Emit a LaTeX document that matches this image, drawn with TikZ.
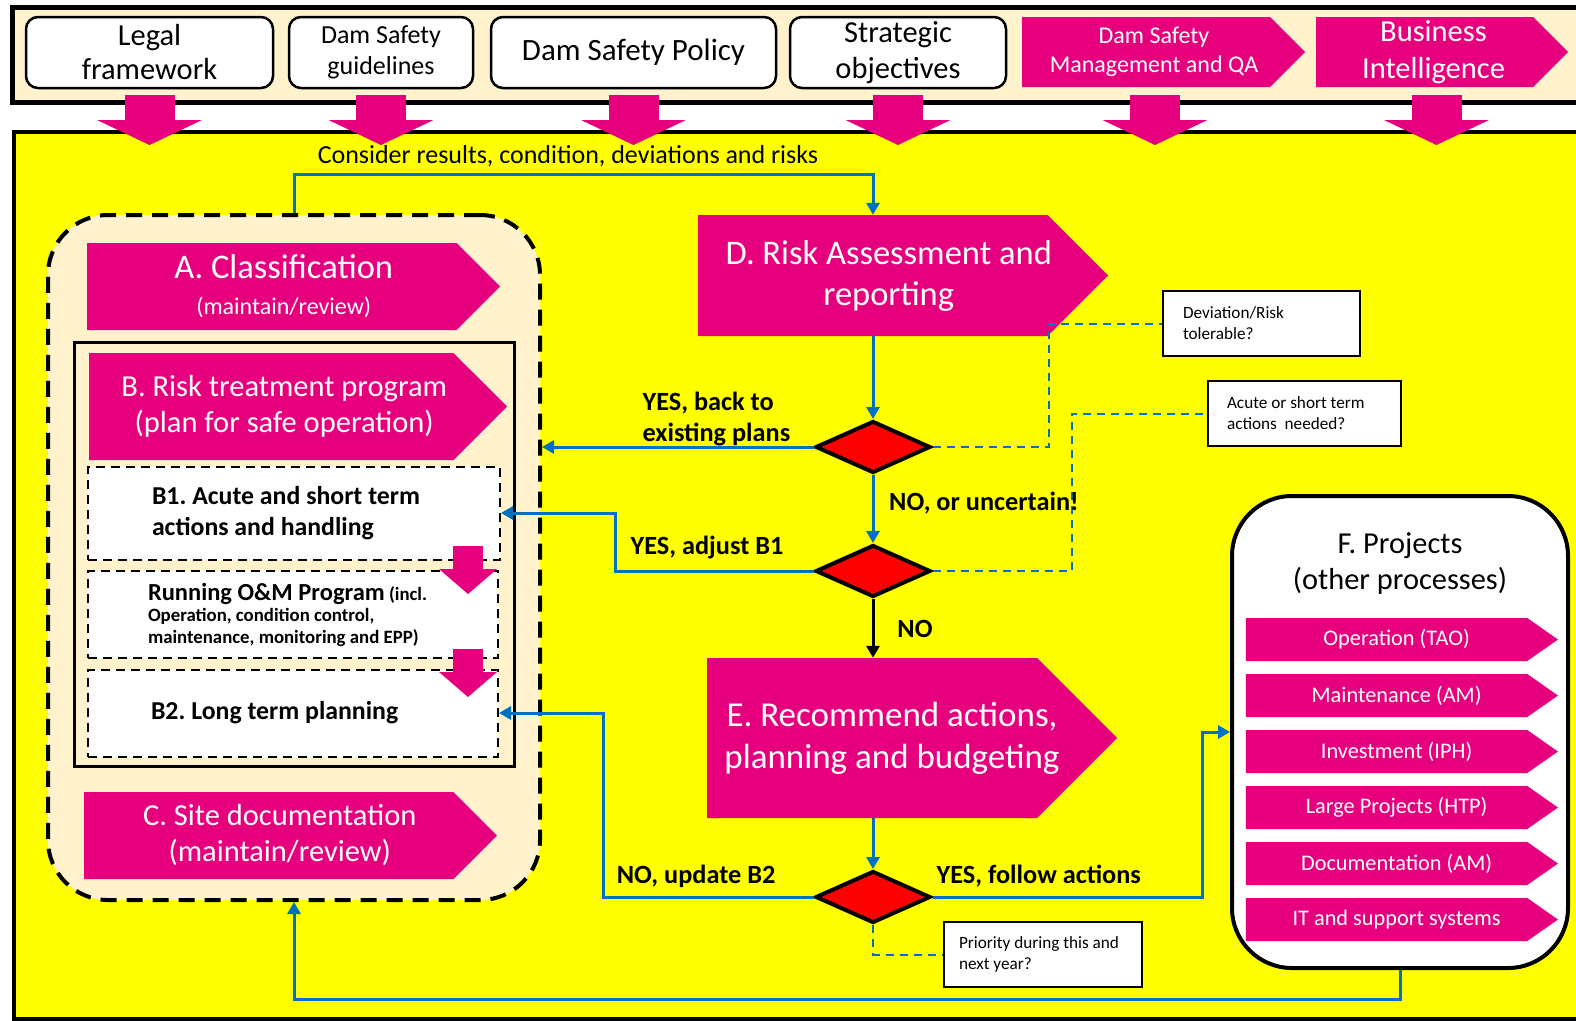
\documentclass[tikz,border=0pt]{standalone}
\usepackage{fontspec}
\setmainfont{Carlito}
\usepackage{tikz}
\usetikzlibrary{arrows.meta,positioning,calc,shapes.geometric,shapes.symbols}
\usepackage{xcolor}
\definecolor{accent}{HTML}{E6007E}
\definecolor{cream}{HTML}{FFF2CC}
\definecolor{link}{HTML}{0070C0}
\definecolor{canvas}{HTML}{FFFF00}
\definecolor{alarm}{HTML}{FF0000}
\newcommand{\fsz}[2]{\fontsize{#1}{#2}\selectfont}
\frenchspacing
\tikzset{
  whitebox/.style={draw, line width=2.5pt, rounded corners=12pt, fill=white, align=center, inner sep=0pt},
  pinkbox/.style={signal, signal to=east, signal from=nowhere, fill=accent, inner sep=0pt},
  caption/.style={text=white, align=center, inner sep=0pt},
  notebox/.style={draw, line width=1.5pt, fill=white, align=flush left, inner sep=0pt, font=\fsz{17.2}{21}},
  dashbox/.style={draw, line width=2pt, dash pattern=on 9pt off 6pt, fill=white, align=flush left, inner sep=0pt, text width=284pt},
  decision/.style={diamond, draw, line width=4pt, fill=alarm, minimum width=115pt, minimum height=52pt, inner sep=0pt},
  bluelink/.style={draw=link, line width=3pt, -{Triangle[width=13pt,length=12pt]}},
  bluedash/.style={draw=link, line width=2pt, dash pattern=on 8pt off 6pt},
  flowlabel/.style={font=\bfseries\fsz{26.3}{31}, align=left, inner sep=0pt},
  fatarrow/.style={draw=accent, line width=50pt, -{Triangle[width=105pt,length=25pt,line width=0pt]}},
  thinarrow/.style={draw=accent, line width=30pt, -{Triangle[width=58pt,length=25pt,line width=0pt]}}
}

\begin{document}
\begin{tikzpicture}[x=1pt,y=-1pt]
  \useasboundingbox (0,0) rectangle (1576,1020);
  \fill[white] (0,0) rectangle (1576,1020);

  \node[draw, line width=4pt, fill=canvas, minimum width=1600pt, minimum height=887pt, anchor=north west, inner sep=0pt] (main) at (12,130) {};
  \node[draw, line width=5pt, fill=cream, minimum width=1600pt, minimum height=95pt, anchor=north west, inner sep=0pt] (band) at (10,5) {};

  \node[whitebox, minimum width=247pt, minimum height=71pt, font=\fsz{30.5}{34}] (legal) at (149.5,52.5) {Legal\\framework};
  \node[whitebox, minimum width=184pt, minimum height=71pt, font=\fsz{26}{31}] (guide) at (381,52.5) {Dam Safety\\guidelines};
  \node[whitebox, minimum width=285pt, minimum height=71pt, font=\fsz{31}{34}] (policy) at (633.5,52.5) {Dam Safety Policy};
  \node[whitebox, minimum width=216pt, minimum height=71pt, font=\fsz{30.5}{36}] (strat) at (898,52.5) {Strategic\\objectives};
  \node[pinkbox, minimum width=283pt, minimum height=70pt, label={[caption, font=\fsz{24}{29}, xshift=8pt]center:{Dam Safety\\Management and QA}}] (dsqa) at (1146,52) {};
  \node[pinkbox, minimum width=252pt, minimum height=70pt, label={[caption, font=\fsz{30.5}{37}, xshift=9pt]center:{Business\\Intelligence}}] (bi) at (1424.5,52) {};

  \foreach \src/\dx in {legal/0,guide/0,policy/0,strat/0,dsqa/9,bi/12}
    \draw[fatarrow] ($(\src.south |- 0,95)+(\dx,0)$) -- ++(0,50);

  \node[font=\fsz{26}{30}] (consider) at (568,156) {Consider results, condition, deviations and risks};

  \node[draw, line width=4pt, dash pattern=on 16pt off 10pt, rounded corners=60pt, fill=cream, minimum width=492pt, minimum height=685pt] (track) at (294,557.5) {};
  \node[pinkbox, minimum width=413pt, minimum height=87pt, label={[caption, font=\fsz{34.5}{36}, xshift=12pt]center:{A. Classification\\{\fsz{24}{28}(maintain/review)}}}] (cls) at (271.75,286.5) {};
  \node[draw, line width=3pt, minimum width=440pt, minimum height=424pt] (bframe) at (294,554) {};
  \node[pinkbox, minimum width=418pt, minimum height=107pt, label={[caption, font=\fsz{30.5}{36}, xshift=13pt]center:{B. Risk treatment program\\(plan for safe operation)}}] (treat) at (271.25,406.5) {};
  \node[dashbox, minimum width=412pt, minimum height=93pt, font=\bfseries\fsz{25.8}{31}] (b1) at (294,513) {B1. Acute and short term\\actions and handling};
  \node[dashbox, minimum width=410pt, minimum height=87pt, text width=290pt, font=\bfseries\fsz{18.8}{21.5}] (om) at (293,614.5) {{\fsz{24.5}{21.5}Running O\&M Program} (incl.\\Operation, condition control,\\maintenance, monitoring and EPP)};
  \node[dashbox, minimum width=410pt, minimum height=87pt, font=\bfseries\fsz{25.8}{31}] (b2) at (293,713) {B2. Long term planning};
  \node[pinkbox, minimum width=413pt, minimum height=87pt, label={[caption, font=\fsz{30.5}{36}, xshift=11pt]center:{C. Site documentation\\(maintain/review)}}] (site) at (268.75,835.5) {};

  \draw[thinarrow] ([xshift=-33pt,yshift=14.5pt]b1.south east) -- ([xshift=-31pt,yshift=-24pt]om.north east);
  \draw[thinarrow] ([xshift=-31pt,yshift=10pt]om.south east) -- ([xshift=-31pt,yshift=-28.5pt]b2.north east);

  \node[pinkbox, minimum width=410pt, minimum height=121pt, label={[caption, font=\fsz{34.5}{41}, xshift=16pt]center:{D. Risk Assessment and\\reporting}}] (risk) at (872.75,275.5) {};
  \node[pinkbox, minimum width=410pt, minimum height=160pt, label={[caption, font=\fsz{35}{42}, xshift=20pt]center:{E. Recommend actions,\\planning and budgeting}}] (rec) at (872,738) {};

  \node[notebox, minimum width=197pt, minimum height=65pt, text width=157pt] (dev) at (1261.5,323.5) {Deviation/Risk\\tolerable?};
  \node[notebox, minimum width=193pt, minimum height=65pt, text width=155pt] (acute) at (1304.5,413.5) {Acute or short term\\actions\ \ needed?};
  \node[notebox, minimum width=198pt, minimum height=65pt, text width=168pt] (prio) at (1043,954.5) {Priority during this and\\next year?};

  \node[decision] (d1) at (873,447) {};
  \node[decision] (d2) at (873,571) {};
  \node[decision] (d3) at (873,897) {};

  \node[draw, line width=4pt, rounded corners=60pt, fill=white, minimum width=336pt, minimum height=472pt] (fbox) at (1400,732) {};
  \node[align=center, font=\fsz{30.4}{36}] (ftitle) at (1400,563) {F. Projects\\(other processes)};
  \foreach \item [count=\i] in {Operation (TAO),Maintenance (AM),Investment (IPH),Large Projects (HTP),Documentation (AM),IT and support systems}
    \node[pinkbox, signal pointer angle=70, minimum width=312pt, minimum height=43pt, label={[caption, font=\fsz{22.3}{24}, xshift=10pt]center:\item}] (proj\i) at (1386.6,583.5+56*\i) {};

  \draw[bluelink] (track.north) -- ++(0,-39) -| (d1 |- risk.north);
  \draw[bluelink] (d1 |- risk.south) -- (d1.north);
  \draw[bluelink] (d1.west) -- (d1 -| track.east);
  \draw[bluelink] (d1.south) -- (d2.north);
  \draw[bluelink] (d2.west) -- ++(-198,0) |- (b1.east);
  \draw[line width=3pt, -{Triangle[width=13pt,length=12pt]}] (d2.south) -- (d2 |- rec.north);
  \draw[bluelink] (d2 |- rec.south) -- (d3.north);
  \draw[bluelink] (d3.west) -- ++(-210,0) |- (b2.east);
  \draw[bluelink] (d3.east) -- ++(270,0) |- (fbox.west);
  \draw[bluelink] (fbox.south) -- ++(0,29) -| (track.south);
  \draw[bluedash] (d1.east) -- ++(116,0) |- (dev.west);
  \draw[bluedash] (d2.east) -- ++(139,0) |- (acute.west);
  \draw[bluedash] (d3.south) |- (prio.west);

  \node[flowlabel, anchor=east] (yes1) at ([xshift=-23pt,yshift=28pt]d1.west) {YES, back to\\existing plans};
  \node[flowlabel, anchor=west] (no1) at ([xshift=16pt,yshift=-28pt]d1.south) {NO, or uncertain!};
  \node[flowlabel, anchor=east] (yes2) at ([xshift=-30pt,yshift=24pt]d2.west) {YES, adjust B1};
  \node[flowlabel] (no2) at ([xshift=42pt,yshift=-30pt]d2.south) {NO};
  \node[flowlabel, anchor=east] (no3) at ([xshift=-38pt,yshift=21pt]d3.west) {NO, update B2};
  \node[flowlabel, anchor=west] (yes3) at ([xshift=4pt,yshift=21pt]d3.east) {YES, follow actions};
\end{tikzpicture}
\end{document}
